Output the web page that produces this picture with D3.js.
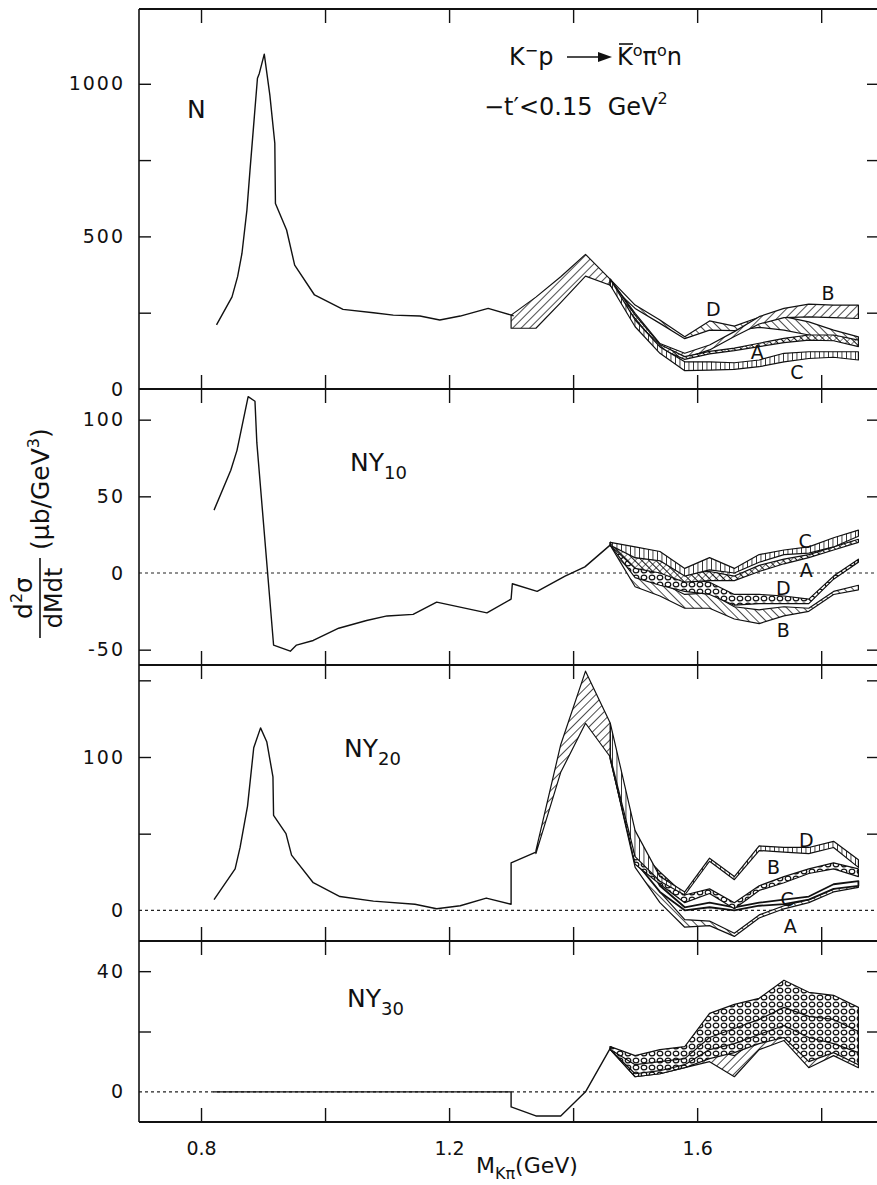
<!DOCTYPE html>
<html>
<head>
<meta charset="utf-8">
<script src="https://cdn.jsdelivr.net/npm/d3@7"></script>
<style>
  body { margin: 0; background: #fff; }
  svg { display: block; }
  text { font-family: "DejaVu Sans", sans-serif; fill: #111; }
</style>
</head>
<body>
<script>
// ---- data (mass in GeV, value in microbarn/GeV^3) ----
const massTicks = [0.8, 1.0, 1.2, 1.4, 1.6, 1.8];
const massTickLabels = ["0.8", "", "1.2", "", "1.6", ""];

// N (unpolarised)
const nMass  = [0.825, 0.850, 0.859, 0.866, 0.874, 0.879, 0.891, 0.894, 0.902, 0.911, 0.919, 0.920, 0.938, 0.951, 0.983, 1.029, 1.078, 1.110, 1.153, 1.185, 1.218, 1.263, 1.304];
const nValue = [210, 302, 368, 444, 586, 717, 1018, 1034, 1097, 963, 805, 608, 521, 406, 308, 261, 250, 242, 239, 226, 239, 264, 240];
const nCommonMass = [1.30, 1.34, 1.38, 1.42, 1.46];
const nCommonLo = [199, 199, 283, 370, 340];
const nCommonHi = [242, 301, 368, 441, 359];

// ambiguous solutions A-D, from 1.46 GeV on
const bandMass = [1.46, 1.50, 1.54, 1.58, 1.62, 1.66, 1.70, 1.74, 1.78, 1.82, 1.86];
const nA_lo = [340, 231, 132, 97, 115, 126, 139, 152, 160, 158, 139];
const nA_hi = [359, 242, 146, 106, 123, 134, 150, 166, 177, 177, 160];
const nB_lo = [340, 235, 135, 101, 128, 172, 213, 234, 236, 234, 231];
const nB_hi = [359, 248, 149, 117, 144, 188, 237, 264, 278, 275, 275];
const nC_lo = [340, 204, 117, 60, 62, 64, 73, 89, 100, 104, 95];
const nC_hi = [359, 226, 138, 89, 89, 86, 95, 117, 122, 122, 122];
const nD_lo = [340, 264, 215, 165, 193, 191, 202, 193, 177, 160, 144];
const nD_hi = [359, 275, 226, 171, 223, 206, 235, 237, 220, 193, 171];

// NY10
const y10Mass  = [0.821, 0.848, 0.858, 0.876, 0.887, 0.890, 0.917, 0.944, 0.954, 0.981, 1.022, 1.067, 1.100, 1.142, 1.180, 1.261, 1.300, 1.302, 1.342, 1.387, 1.419, 1.462];
const y10Value = [41, 67, 80, 115, 112, 85, -47, -51, -47, -44, -36, -31, -28, -27, -19, -26, -17, -7, -12, -2, 4, 19];
const y10A_lo = [18, 3, 0, -6, -5, -5, 1, 6, 10, 15, 20];
const y10A_hi = [20, 10, 8, 0, 1, -2, 5, 9, 12, 17, 22];
const y10B_lo = [18, -9, -15, -23, -23, -30, -33, -28, -25, -14, -11];
const y10B_hi = [20, -1, -6, -14, -13, -22, -24, -22, -23, -12, -8];
const y10C_lo = [18, 10, 8, -2, 2, 0, 7, 12, 13, 17, 24];
const y10C_hi = [20, 17, 14, 3, 10, 3, 12, 15, 17, 23, 28];
const y10D_lo = [18, -3, -8, -12, -14, -21, -20, -20, -20, -4, 7];
const y10D_hi = [20, 5, 2, -4, -6, -14, -14, -15, -17, -2, 9];

// NY20
const y20Mass  = [0.821, 0.855, 0.863, 0.875, 0.885, 0.896, 0.906, 0.916, 0.917, 0.937, 0.946, 0.981, 1.024, 1.078, 1.145, 1.180, 1.218, 1.260, 1.300, 1.300, 1.340];
const y20Value = [7, 27, 41, 68, 106, 119, 110, 87, 62, 50, 36, 18, 9, 6, 4, 1, 3, 8, 4, 31, 38];
const y20CommonMass = [1.34, 1.38, 1.42, 1.46];
const y20CommonLo = [37, 90, 122, 100];
const y20CommonHi = [39, 108, 156, 122];
const y20A_lo = [99, 28, 5, -11, -10, -17, -5, 1, 5, 12, 15];
const y20A_hi = [101, 38, 12, -6, -7, -15, -3, 3, 7, 14, 17];
const y20B_lo = [99, 30, 17, 5, 11, 1, 13, 18, 24, 27, 22];
const y20B_hi = [101, 42, 25, 10, 14, 5, 16, 22, 27, 31, 27];
const y20C_lo = [99, 32, 12, 0, 2, 0, 3, 4, 7, 14, 16];
const y20C_hi = [101, 45, 16, 2, 5, 2, 5, 7, 9, 17, 19];
const y20D_lo = [100, 35, 19, 10, 32, 20, 39, 38, 37, 41, 28];
const y20D_hi = [122, 52, 22, 12, 34, 22, 42, 41, 41, 45, 33];

// NY30
const y30Mass  = [0.82, 1.30, 1.30, 1.34, 1.38, 1.42, 1.46];
const y30Value = [0, 0, -5, -8, -8, 0, 14.5];
const y30A_lo = [14, 5, 6, 8, 11, 13, 16, 18, 10, 13, 9];
const y30A_hi = [15, 8, 9, 11, 17, 19, 22, 25, 20, 20, 18];
const y30B_lo = [14, 6, 7, 9, 14, 16, 19, 22, 18, 16, 13];
const y30B_hi = [15, 10, 11, 13, 21, 24, 27, 30, 28, 27, 24];
const y30C_lo = [14, 5, 6, 8, 10, 5, 14, 17, 8, 12, 8];
const y30C_hi = [15, 7, 8, 10, 14, 12, 18, 21, 14, 16, 12];
const y30D_lo = [14, 9, 10, 11, 18, 21, 24, 28, 25, 24, 20];
const y30D_hi = [15, 12, 14, 15, 26, 29, 31, 37, 33, 32, 28];

// ---- layout ----
const W = 877, H = 1185;
const left = 139, right = 877;

const x = d3.scaleLinear().domain([0.70, 1.89]).range([left, right]);

const panels = [
  {
    label: "N", sub: "", labelAt: [187, 118],
    y: d3.scaleLinear().domain([0, 1245]).range([389, 9]),
    ticks: [250, 500, 750, 1000], tickText: [0, 500, 1000], zero: false,
    main: [nMass, nValue],
    common: [nCommonMass, nCommonLo, nCommonHi],
    bands: [
      ["D", nD_lo, nD_hi, "back"], ["B", nB_lo, nB_hi, "slant"],
      ["A", nA_lo, nA_hi, "cross"], ["C", nC_lo, nC_hi, "vert"]
    ],
    marks: [["D", 1.626, 262], ["B", 1.811, 314], ["A", 1.697, 121], ["C", 1.761, 56]]
  },
  {
    label: "NY", sub: "10", labelAt: [350, 471],
    y: d3.scaleLinear().domain([-60, 120]).range([665, 389]),
    ticks: [-50, 50, 100], tickText: [-50, 0, 50, 100], zero: true,
    main: [y10Mass, y10Value],
    common: null,
    bands: [
      ["B", y10B_lo, y10B_hi, "back"], ["D", y10D_lo, y10D_hi, "cells"],
      ["A", y10A_lo, y10A_hi, "cross"], ["C", y10C_lo, y10C_hi, "vert"]
    ],
    marks: [["C", 1.774, 21], ["A", 1.776, 2], ["D", 1.739, -10], ["B", 1.739, -37]]
  },
  {
    label: "NY", sub: "20", labelAt: [344, 757],
    y: d3.scaleLinear().domain([-20, 160]).range([941, 665]),
    ticks: [50, 100, 150], tickText: [0, 100], zero: true,
    main: [y20Mass, y20Value],
    common: [y20CommonMass, y20CommonLo, y20CommonHi],
    bands: [
      ["A", y20A_lo, y20A_hi, "back"], ["C", y20C_lo, y20C_hi, "plain"],
      ["B", y20B_lo, y20B_hi, "cells"], ["D", y20D_lo, y20D_hi, "vert"]
    ],
    marks: [["D", 1.776, 46], ["B", 1.723, 28], ["C", 1.745, 7], ["A", 1.750, -10]]
  },
  {
    label: "NY", sub: "30", labelAt: [347, 1007],
    y: d3.scaleLinear().domain([-10, 50]).range([1122, 941]),
    ticks: [20, 40], tickText: [0, 40], zero: true,
    main: [y30Mass, y30Value],
    common: null,
    bands: [
      ["C", y30C_lo, y30C_hi, "slant"], ["A", y30A_lo, y30A_hi, "cells"],
      ["B", y30B_lo, y30B_hi, "cells"], ["D", y30D_lo, y30D_hi, "cells"]
    ],
    marks: []
  }
];

const svg = d3.select("body").append("svg")
  .attr("width", W)
  .attr("height", H);

svg.append("rect").attr("width", W).attr("height", H).attr("fill", "#fff");

// hatch patterns
const defs = svg.append("defs");
function hatch(id, angle, gap, sw) {
  const p = defs.append("pattern")
    .attr("id", id)
    .attr("patternUnits", "userSpaceOnUse")
    .attr("width", gap).attr("height", gap)
    .attr("patternTransform", `rotate(${angle})`);
  p.append("rect").attr("width", gap).attr("height", gap).attr("fill", "#fff");
  p.append("line").attr("x1", 0).attr("y1", 0).attr("x2", 0).attr("y2", gap)
    .attr("stroke", "#111").attr("stroke-width", sw);
  return p;
}
hatch("slant", 45, 6, 1.5);
hatch("back", -45, 6, 1.5);
hatch("vert", 0, 4.5, 1.6);
hatch("cross", 45, 5, 1.1).append("line")
  .attr("x1", 0).attr("y1", 2.5).attr("x2", 5).attr("y2", 2.5)
  .attr("stroke", "#111").attr("stroke-width", 1);
const cells = defs.append("pattern")
  .attr("id", "cells")
  .attr("patternUnits", "userSpaceOnUse")
  .attr("width", 8).attr("height", 7);
cells.append("rect").attr("width", 8).attr("height", 7).attr("fill", "#fff");
cells.append("ellipse").attr("cx", 4).attr("cy", 3.5).attr("rx", 2.8).attr("ry", 2.4)
  .attr("fill", "none").attr("stroke", "#111").attr("stroke-width", 1.2);
defs.append("pattern")
  .attr("id", "plain")
  .attr("patternUnits", "userSpaceOnUse")
  .attr("width", 4).attr("height", 4)
  .append("rect").attr("width", 4).attr("height", 4).attr("fill", "#fff");

panels.forEach((p, i) => {
  const y = p.y;
  const [yBottom, yTop] = y.range();
  const g = svg.append("g");

  // zero reference line
  if (p.zero) {
    g.append("line")
      .attr("x1", left).attr("x2", right)
      .attr("y1", y(0)).attr("y2", y(0))
      .attr("stroke", "#222").attr("stroke-width", 1.2)
      .attr("stroke-dasharray", "3,3");
  }

  // left axis, ticks pointing inward
  g.append("g")
    .attr("transform", `translate(${left},0)`)
    .call(d3.axisLeft(y).tickValues(p.ticks.concat(p.tickText.filter(v => !p.ticks.includes(v))))
      .tickSizeInner(-12).tickSizeOuter(0).tickPadding(14)
      .tickFormat(v => p.tickText.includes(v) ? (v < 0 ? "-" + Math.abs(v) : v) : ""))
    .call(a => a.select(".domain").remove())
    .call(a => a.selectAll(".tick line")
      .attr("stroke", "#111").attr("stroke-width", 1.4)
      .filter(v => !p.ticks.includes(v)).remove())
    .call(a => a.selectAll("text")
      .style("font-size", "19px").style("letter-spacing", "2px").attr("fill", "#111"));

  // right axis ticks
  g.append("g")
    .attr("transform", `translate(${right},0)`)
    .call(d3.axisRight(y).tickValues(p.ticks).tickSizeInner(-10).tickSizeOuter(0).tickFormat(""))
    .call(a => a.select(".domain").remove())
    .call(a => a.selectAll(".tick line").attr("stroke", "#111").attr("stroke-width", 1.4));

  // mass ticks at top and bottom of each panel
  g.append("g")
    .attr("transform", `translate(0,${yTop})`)
    .call(d3.axisBottom(x).tickValues(massTicks).tickSizeInner(14).tickSizeOuter(0).tickFormat(""))
    .call(a => a.select(".domain").remove())
    .call(a => a.selectAll(".tick line").attr("stroke", "#111").attr("stroke-width", 1.4));
  const bottomAxis = g.append("g")
    .attr("transform", `translate(0,${yBottom})`)
    .call(d3.axisBottom(x).tickValues(massTicks).tickSizeInner(-14).tickSizeOuter(0).tickPadding(20)
      .tickFormat((d, k) => i === panels.length - 1 ? massTickLabels[k] : ""))
    .call(a => a.select(".domain").remove())
    .call(a => a.selectAll(".tick line").attr("stroke", "#111").attr("stroke-width", 1.4));
  bottomAxis.selectAll("text").style("font-size", "19px").attr("fill", "#111");

  const area = d3.area()
    .x(d => x(d[0])).y0(d => y(d[1])).y1(d => y(d[2]));
  const line = d3.line().x(d => x(d[0])).y(d => y(d[1]));

  // common band (before the solutions split)
  if (p.common) {
    const [cm, clo, chi] = p.common;
    g.append("path")
      .datum(cm.map((m, k) => [m, clo[k], chi[k]]))
      .attr("d", area)
      .attr("fill", "url(#slant)")
      .attr("stroke", "#111").attr("stroke-width", 1.2)
      .attr("stroke-linejoin", "round");
  }

  // solution bands
  p.bands.forEach(([key, lo, hi, pat]) => {
    g.append("path")
      .datum(bandMass.map((m, k) => [m, lo[k], hi[k]]))
      .attr("class", "band band-" + key)
      .attr("d", area)
      .attr("fill", `url(#${pat})`)
      .attr("stroke", "#111").attr("stroke-width", pat === "plain" ? 1.8 : 1.2)
      .attr("stroke-linejoin", "round");
  });

  // main curve
  const [mm, mv] = p.main;
  g.append("path")
    .datum(mm.map((m, k) => [m, mv[k]]))
    .attr("d", line)
    .attr("fill", "none")
    .attr("stroke", "#111").attr("stroke-width", 1.4)
    .attr("stroke-linejoin", "round");

  // solution letters
  g.selectAll(".mark")
    .data(p.marks)
    .join("text")
    .attr("class", "mark")
    .attr("x", d => x(d[1]))
    .attr("y", d => y(d[2]))
    .attr("dy", "0.36em")
    .attr("text-anchor", "middle")
    .style("font-size", "19px")
    .text(d => d[0]);

  // panel name
  const t = g.append("text")
    .attr("x", p.labelAt[0]).attr("y", p.labelAt[1])
    .style("font-size", "25px");
  t.append("tspan").text(p.label);
  if (p.sub) t.append("tspan").attr("dy", 8).style("font-size", "18px").text(p.sub);
});

// frame
const frame = svg.append("g").attr("stroke", "#111").attr("fill", "none");
frame.append("line").attr("x1", left).attr("x2", left).attr("y1", 9).attr("y2", 1122).attr("stroke-width", 1.6);
[9, 389, 665, 941, 1122].forEach(yy => {
  frame.append("line").attr("x1", left).attr("x2", right).attr("y1", yy).attr("y2", yy).attr("stroke-width", 2);
});

// reaction and cut
const title = svg.append("g").style("font-size", "24px");
title.append("text").attr("x", 509).attr("y", 65)
  .html('K<tspan dy="-9" font-size="16">−</tspan><tspan dy="9">p</tspan>');
title.append("line").attr("x1", 567).attr("x2", 600).attr("y1", 57).attr("y2", 57)
  .attr("stroke", "#111").attr("stroke-width", 1.6);
title.append("path").attr("d", "M598,52 L612,57 L598,62 Z").attr("fill", "#111");
title.append("text").attr("x", 617).attr("y", 65)
  .html('K<tspan dy="-9" font-size="16">o</tspan><tspan dy="9">π</tspan><tspan dy="-9" font-size="16">o</tspan><tspan dy="9">n</tspan>');
title.append("line").attr("x1", 619).attr("x2", 633).attr("y1", 44).attr("y2", 44)
  .attr("stroke", "#111").attr("stroke-width", 1.6);
title.append("text").attr("x", 484).attr("y", 115)
  .html('−t′&lt;0.15  GeV<tspan dy="-11" font-size="16">2</tspan>')
  .attr("xml:space", "preserve");

// axis titles
const yl = svg.append("g").attr("transform", "translate(40,512) rotate(-90)");
yl.append("text").attr("x", -86).attr("y", -8).attr("text-anchor", "middle").style("font-size", "25px")
  .html('d<tspan dy="-10" font-size="16">2</tspan><tspan dy="10">σ</tspan>');
yl.append("line").attr("x1", -126).attr("x2", -46).attr("y1", 0).attr("y2", 0)
  .attr("stroke", "#111").attr("stroke-width", 1.6);
yl.append("text").attr("x", -86).attr("y", 22).attr("text-anchor", "middle").style("font-size", "24px")
  .text("dMdt");
yl.append("text").attr("x", -38).attr("y", 9).style("font-size", "25px")
  .html('(μb/GeV<tspan dy="-10" font-size="16">3</tspan><tspan dy="10">)</tspan>');

const xl = svg.append("text").attr("x", 476).attr("y", 1173).style("font-size", "22px");
xl.append("tspan").text("M");
xl.append("tspan").attr("dy", 6).style("font-size", "16px").text("Kπ");
xl.append("tspan").attr("dy", -6).text("(GeV)");
</script>
</body>
</html>
